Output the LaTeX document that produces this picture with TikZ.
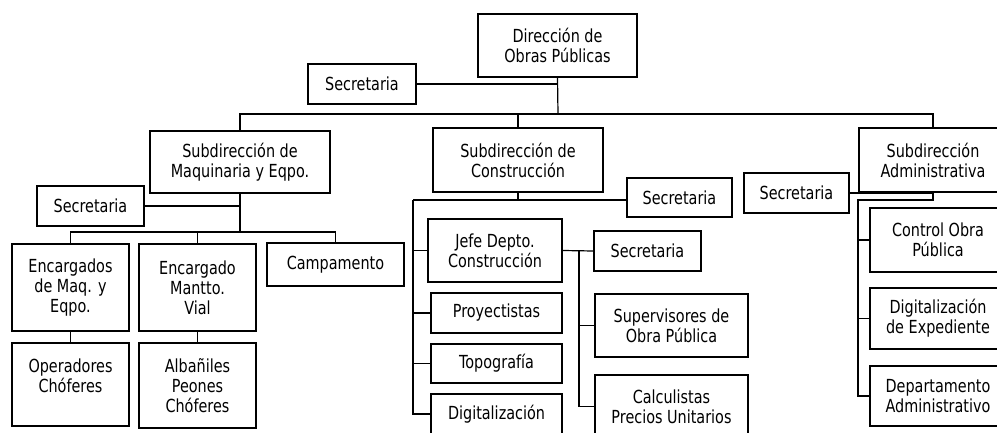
\documentclass[tikz,border=0pt]{standalone}
\usepackage{fontspec}
\setmainfont{DejaVu Sans}[FakeStretch=0.8]
\begin{document}
\begin{tikzpicture}[x=1pt,y=-1pt,
  box/.style={draw, line width=1.2pt, inner sep=0pt, align=center, font=\fontsize{18}{20}\selectfont},
  sz/.style 2 args={minimum width=#1pt, minimum height=#2pt},
  conn/.style={line width=1.2pt}]
\useasboundingbox (0,0) rectangle (997,433);
\clip (0,0) rectangle (997,433);
% level 0
\node[box, sz={159}{63}] (dir) at (557.5,45.5) {Dirección de\\Obras Públicas};
\node[box, sz={108}{40}] (sec0) at (362,84) {Secretaria};
% level 1
\node[box, sz={180}{62}] (subM) at (240,162) {Subdirección de\\Maquinaria y Eqpo.};
\node[box, sz={170}{64}] (subC) at (518,160) {Subdirección de\\Construcción};
\node[box, sz={148}{64}] (subA) at (933,160) {Subdirección\\Administrativa};
% maquinaria
\node[box, sz={107}{40}] (secM) at (90.5,206) {Secretaria};
\node[box, sz={117}{87}] (encMaq) at (70.5,287.5) {Encargados\\de Maq. y\\Eqpo.};
\node[box, sz={117}{87}] (encMan) at (197.5,287.5) {Encargado\\Mantto.\\Vial};
\node[box, sz={137}{43}] (camp) at (335.5,264.5) {Campamento};
\node[box, sz={117}{83}] (oper) at (70.5,384.5) {Operadores\\Chóferes\\[-3pt]};
\node[box, sz={117}{85}] (alb) at (197.5,385.5) {Albañiles\\Peones\\Chóferes};
% construccion
\node[box, sz={105}{39}] (secC) at (679.5,197.5) {Secretaria};
\node[box, sz={134}{63}] (jefe) at (495,250.5) {Jefe Depto.\\Construcción};
\node[box, sz={131}{40}] (proy) at (496.5,313) {Proyectistas};
\node[box, sz={131}{39}] (topo) at (496.5,363.5) {Topografía};
\node[box, sz={131}{40}] (digi) at (496.5,414) {Digitalización};
\node[box, sz={107}{40}] (secJ) at (647.5,251) {Secretaria};
\node[box, sz={153}{63}] (sup) at (671.5,325.5) {Supervisores de\\Obra Pública};
\node[box, sz={153}{63}] (calc) at (671.5,406.5) {Calculistas\\Precios Unitarios};
% administrativa
\node[box, sz={105}{40}] (secA) at (796.5,193) {Secretaria};
\node[box, sz={136}{64}] (ctrl) at (938,240) {Control Obra\\Pública};
\node[box, sz={136}{61}] (digE) at (938,318.5) {Digitalización\\de Expediente};
\node[box, sz={136}{60}] (dep) at (938,396) {Departamento\\Administrativo};
% connectors level 0/1
\coordinate (busA) at (558,114);
\draw[conn] (dir.south) -- (busA);
\draw[conn] (sec0.east) -- (sec0.east -| busA);
\draw[conn] (subM.north) |- (busA) -| (subA.north);
\draw[conn] (subC.north) -- (subC.north |- busA);
% maquinaria connectors
\coordinate (busM) at (240,232);
\draw[conn] (subM.south) -- (busM);
\draw[conn] (secM.east) -- (secM.east -| busM);
\draw[conn] (encMaq.north) |- (busM) -| (camp.north);
\draw[conn] (encMan.north) -- (encMan.north |- busM);
\draw[conn] (encMaq.south) -- (oper.north);
\draw[conn] (encMan.south) -- (alb.north);
% construccion connectors
\coordinate (cC) at (518,200);
\coordinate (cL) at (413,200);
\draw[conn] (subC.south) -- (cC);
\draw[conn] (cL) -- (cL -| secC.west);
\draw[conn] (cL) |- (digi.west);
\draw[conn] (jefe.west -| cL) -- (jefe.west);
\draw[conn] (proy.west -| cL) -- (proy.west);
\draw[conn] (topo.west -| cL) -- (topo.west);
\draw[conn] (jefe.east) -- (secJ.west);
\coordinate (jV) at (579,251);
\draw[conn] (jV) |- (calc.west);
\draw[conn] (sup.west -| jV) -- (sup.west);
% administrativa connectors
\coordinate (aC) at (933,200);
\coordinate (aL) at (858,200);
\draw[conn] (subA.south) -- (aC) -- (aL) |- (dep.west);
\draw[conn] (secA.east) -- (secA.east -| aC);
\draw[conn] (ctrl.west -| aL) -- (ctrl.west);
\draw[conn] (digE.west -| aL) -- (digE.west);
\end{tikzpicture}
\end{document}
